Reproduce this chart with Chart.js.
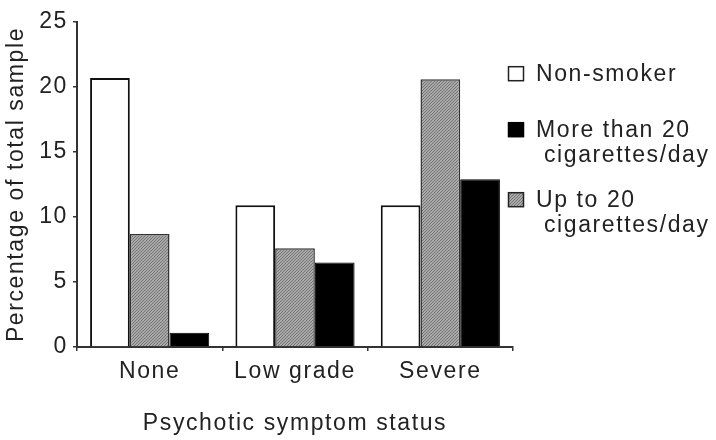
<!DOCTYPE html>
<html>
<head>
<meta charset="utf-8">
<script src="https://cdn.jsdelivr.net/npm/chart.js@4/dist/chart.umd.min.js"></script>
<style>
  html, body { margin: 0; padding: 0; background: #fff; }
  #wrap { width: 716px; height: 440px; position: relative; }
</style>
</head>
<body>
<div id="wrap"><canvas id="c"></canvas></div>
<script>
const categories = ['None', 'Low grade', 'Severe'];
const nonSmoker = [20.7, 10.9, 10.9];
const upTo20 = [8.7, 7.6, 20.6];
const moreThan20 = [1.1, 6.5, 12.9];
const yTicks = [0, 5, 10, 15, 20, 25];
const legendLabels = [
  ['Non-smoker'],
  ['More than 20', ' cigarettes/day'],
  ['Up to 20', ' cigarettes/day']
];

const FONT = '"Liberation Sans", Arial, sans-serif';
const FS = 23;
const TEXT = '#222';
const SPACING = '1.6px';

function makeHatch() {
  const c = document.createElement('canvas');
  c.width = 3; c.height = 3;
  const g = c.getContext('2d');
  g.fillStyle = '#a8a8a8';
  g.fillRect(0, 0, 3, 3);
  g.fillStyle = '#777';
  for (let i = 0; i < 3; i++) g.fillRect(2 - i, i, 1, 1);
  return g.createPattern(c, 'repeat');
}
const canvas = document.getElementById('c');
const hatch = makeHatch();

const spacingPlugin = {
  id: 'spacing',
  beforeUpdate(chart) { chart.ctx.letterSpacing = SPACING; },
  beforeDraw(chart) { chart.ctx.letterSpacing = SPACING; }
};

const legendPlugin = {
  id: 'customLegend',
  afterDraw(chart) {
    const ctx = chart.ctx;
    ctx.save();
    ctx.letterSpacing = SPACING;
    ctx.font = FS + 'px ' + FONT;
    ctx.fillStyle = TEXT;
    ctx.textBaseline = 'alphabetic';
    ctx.textAlign = 'left';
    const fills = ['#fff', '#000', hatch];
    const strokes = ['#222', '#000', '#222'];
    const baselines = [[80.7], [136.7, 161.7], [206.7, 232]];
    legendLabels.forEach((lines, i) => {
      const b = baselines[i][0];
      ctx.fillStyle = fills[i];
      ctx.fillRect(508.5, b - 14, 15, 14);
      ctx.strokeStyle = strokes[i];
      ctx.lineWidth = 1.5;
      ctx.strokeRect(508.5, b - 14, 15, 14);
      ctx.fillStyle = TEXT;
      lines.forEach((t, j) => ctx.fillText(t, 536, baselines[i][j]));
    });
    ctx.restore();
  }
};

new Chart(canvas, {
  type: 'bar',
  data: {
    labels: categories,
    datasets: [
      { label: 'Non-smoker', data: nonSmoker, backgroundColor: '#fff', borderColor: '#111', borderWidth: 2 },
      { label: 'Up to 20 cigarettes/day', data: upTo20, backgroundColor: hatch, borderColor: '#333', borderWidth: 1.5 },
      { label: 'More than 20 cigarettes/day', data: moreThan20, backgroundColor: '#000', borderColor: '#000', borderWidth: 1 }
    ]
  },
  options: {
    responsive: true,
    maintainAspectRatio: false,
    animation: false,
    devicePixelRatio: 1,
    layout: { padding: { left: 0, top: 22, right: 203, bottom: 0 } },
    datasets: { bar: { categoryPercentage: 0.82, barPercentage: 1.0 } },
    plugins: { legend: { display: false }, tooltip: { enabled: false } },
    scales: {
      x: {
        grid: { drawOnChartArea: false, drawTicks: true, tickLength: 4, color: '#333', lineWidth: 1.5 },
        border: { color: '#333', width: 2 },
        ticks: { color: TEXT, font: { family: FONT, size: FS }, padding: 7, maxRotation: 0 },
        title: { display: true, text: 'Psychotic symptom status', color: TEXT, font: { family: FONT, size: FS }, padding: { top: 0, bottom: 3 } },
        afterFit(s) { s.height = 93; }
      },
      y: {
        min: 0, max: 25,
        afterBuildTicks(s) { s.ticks = yTicks.map(v => ({ value: v })); },
        grid: { drawOnChartArea: false, drawTicks: true, tickLength: 4, color: '#333', lineWidth: 1.5 },
        border: { color: '#333', width: 2 },
        ticks: { color: TEXT, font: { family: FONT, size: FS }, padding: 5 },
        title: { display: true, text: 'Percentage of total sample', color: TEXT, font: { family: FONT, size: FS }, padding: { top: 3, bottom: 0 } },
        afterFit(s) { s.width = 77; }
      }
    }
  },
  plugins: [spacingPlugin, legendPlugin]
});
</script>
</body>
</html>
